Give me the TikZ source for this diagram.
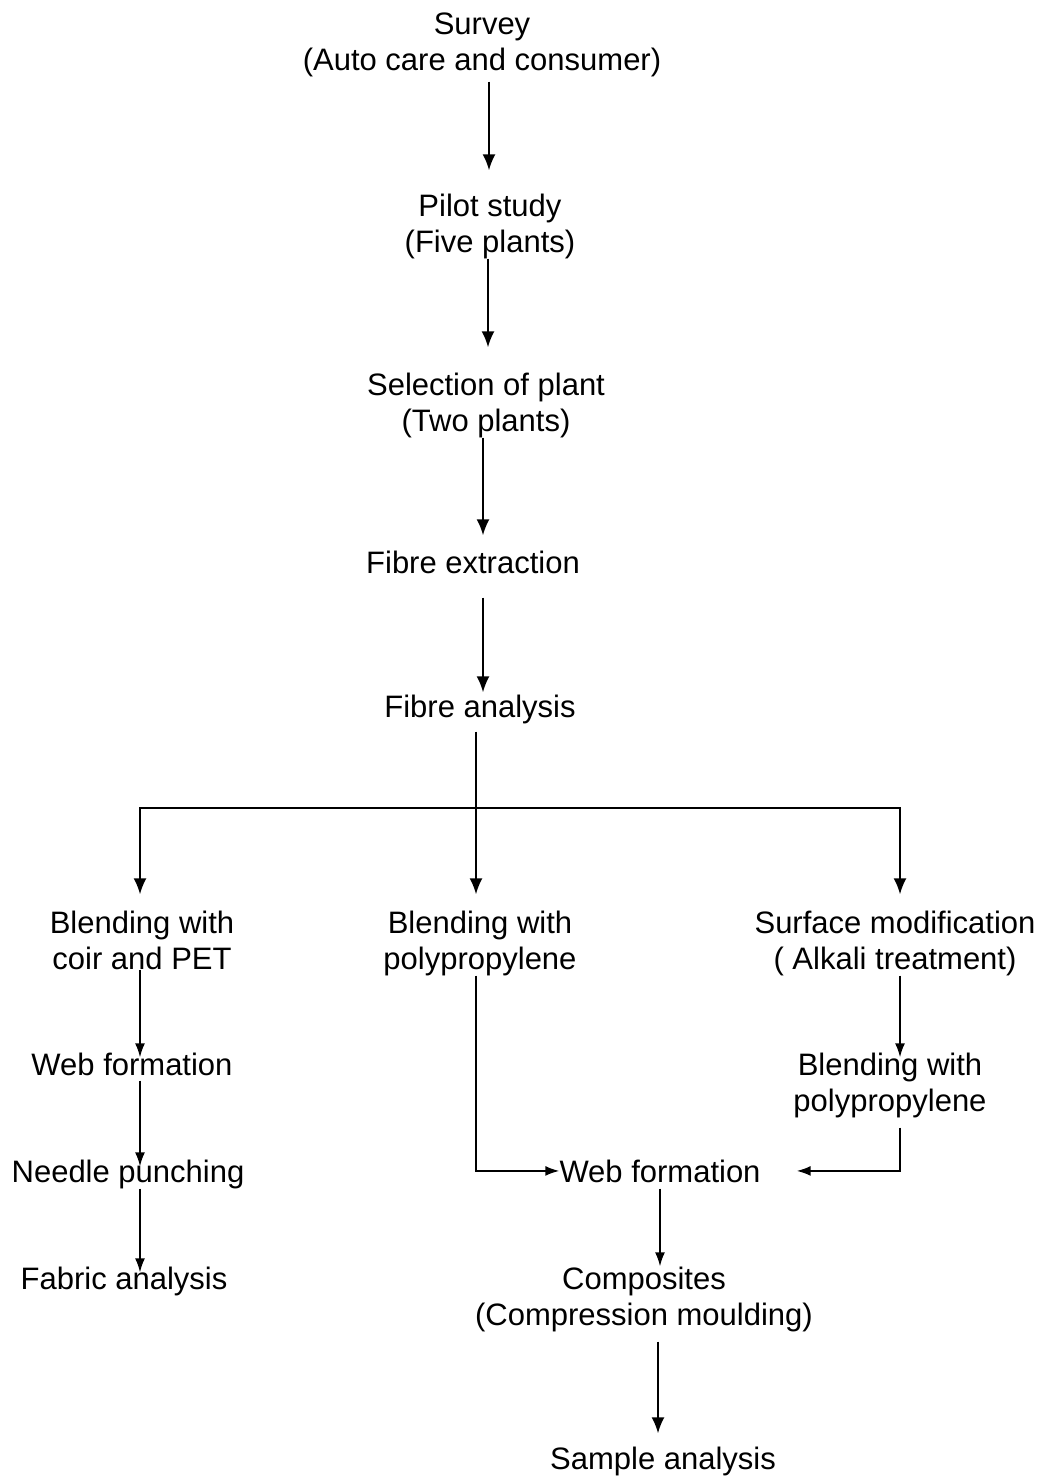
\documentclass[tikz,border=0pt]{standalone}
\usepackage{fontspec}
\setmainfont{Liberation Sans}
\usetikzlibrary{positioning, arrows.meta, calc}
\tikzset{
	>={Latex[length=16pt,width=13pt]},
	every node/.style={inner sep=0pt, align=center, anchor=base, font=\fontsize{31}{36}\selectfont},
	flow/.style={->, line width=2pt},
	thinflow/.style={->, line width=1.7pt, >={Latex[length=14pt,width=10pt]}},
}

\begin{document}
\begin{tikzpicture}[x=1pt, y=-1pt]
	\useasboundingbox (0,0) rectangle (1045,1477);

	\node (SURVEY) at (482,71) {Survey\\(Auto care and consumer)};
	\node (PILOT) at (490,252) {Pilot study\\(Five plants)};
	\node (SELECT) at (486,431) {Selection of plant\\(Two plants)};
	\node (EXTRACT) at (473,573) {Fibre extraction};
	\node (ANALYSIS) at (480,717) {Fibre analysis};
	\coordinate (SPLIT) at (476,808);

	\node (BLENDPET) at (142,969) {Blending with\\coir and PET};
	\node (BLENDPP) at (480,969) {Blending with\\polypropylene};
	\node (SURFACE) at (895,969) {Surface modification\\( Alkali treatment)};

	\node (WEBA) at (132,1075) {Web formation};
	\node (NEEDLE) at (128,1182) {Needle punching};
	\node (FABRIC) at (124,1289) {Fabric analysis};

	\node (BLENDPP2) at (890,1111) {Blending with\\polypropylene};
	\node (WEBB) at (660,1182) {Web formation};
	\node (COMPOSITE) at (644,1325) {Composites\\(Compression moulding)};
	\node (SAMPLE) at (663,1469) {Sample analysis};

	% main line
	\draw[flow, shorten <=4, shorten >=23] ([xshift=7]SURVEY.south) -- ([xshift=-1]PILOT.north);
	\draw[flow, shorten >=25] ([xshift=-2]PILOT.south) -- ([xshift=2]SELECT.north);
	\draw[flow, shorten >=15] ([xshift=-3]SELECT.south) -- ([xshift=10]EXTRACT.north);
	\draw[flow, shorten <=24, shorten >=2] ([xshift=10]EXTRACT.south) -- ([xshift=3]ANALYSIS.north);
	\draw[flow, shorten <=8, shorten >=16] ([xshift=-4]ANALYSIS.south) -- ([xshift=-4]BLENDPP.north);
	\draw[flow, shorten >=16] (SPLIT) -| ([xshift=-2]BLENDPET.north);
	\draw[flow, shorten >=16] (SPLIT) -| ([xshift=5]SURFACE.north);

	% left branch
	\draw[thinflow, shorten >=-5] ([xshift=-2]BLENDPET.south) -- ([xshift=8]WEBA.north);
	\draw[thinflow, shorten <=5, shorten >=-7] ([xshift=8]WEBA.south) -- ([xshift=12]NEEDLE.north);
	\draw[thinflow, shorten >=-6] ([xshift=12]NEEDLE.south) -- ([xshift=16]FABRIC.north);

	% middle and right branch
	\draw[thinflow] ([xshift=-4]BLENDPP.south) |- (WEBB.west);
	\draw[thinflow, shorten >=-5] ([xshift=5]SURFACE.south) -- ([xshift=10]BLENDPP2.north);
	\draw[thinflow, shorten <=10, shorten >=36] ([xshift=10]BLENDPP2.south) |- (WEBB.east);
	\draw[thinflow, shorten <=6] (WEBB.south) -- ([xshift=16]COMPOSITE.north);
	\draw[flow, shorten <=10, shorten >=13] ([xshift=14]COMPOSITE.south) -- ([xshift=-5]SAMPLE.north);
\end{tikzpicture}
\end{document}
